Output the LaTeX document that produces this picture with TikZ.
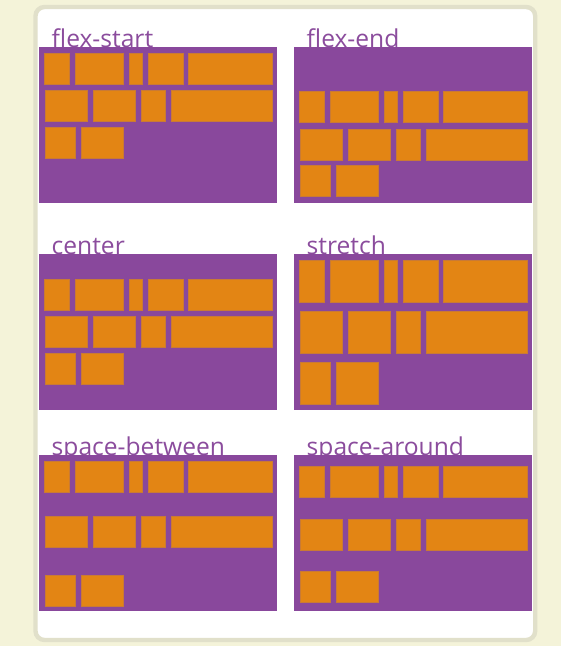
\documentclass[tikz,border=0pt]{standalone}
\usepackage{fontspec}
\setmainfont{Open Sans}
\begin{document}
\begin{tikzpicture}[x=1pt,y=-1pt,
  flexbox/.style={fill=flexpurple},
  flexitem/.style={fill=flexorange,draw=flexedge,line width=0.7pt},
  flexlabel/.style={anchor=base west,inner sep=0pt,text=flexlabelcol,font=\fontsize{24.6}{28}\selectfont}]
\definecolor{cream}{HTML}{F4F3D9}
\definecolor{cardedge}{HTML}{E1E0CA}
\definecolor{flexpurple}{HTML}{89489C}
\definecolor{flexorange}{HTML}{E38514}
\definecolor{flexedge}{HTML}{C97A35}
\definecolor{flexlabelcol}{HTML}{8B4C9D}
\fill[cream] (0,0) rectangle (561,646);
\useasboundingbox (0,0) rectangle (561,646);
\draw[draw=cardedge,line width=4.4pt,fill=white,rounded corners=9pt] (35.5,7) rectangle (535.2,640);
% row/left/right of each item, relative to the box
\def\flexitems{1/5.5/30,1/36/84,1/90/103.5,1/109/144,1/149.5/233,2/6/48.5,2/54/96.5,2/102/126,2/132/233,3/6/36.5,3/42/84.5}
\foreach \px/\py/\lab/\ta/\tb/\tc/\h [count=\k] in {
  39/47/flex-start/6/43/80/31,
  294/47/flex-end/44.3/82/118.7/31,
  39/253.5/center/25.5/63/100/31,
  294/253.5/stretch/6.5/57.5/108.5/42,
  39/455/space-between/6.3/61.5/120/31,
  294/455/space-around/11/64/116/31}
{
  \node[flexlabel] (label\k) at (\px+12.5,\py+0.5) {\lab};
  \fill[flexbox] (\px,\py) rectangle ++(238,156);
  \foreach \r/\a/\b in \flexitems {
    \pgfmathsetmacro\rtop{{\ta,\tb,\tc}[\r-1]}
    \draw[flexitem] (\px+\a,\py+\rtop) rectangle ++(\b-\a,\h);
  }
}
\end{tikzpicture}
\end{document}
